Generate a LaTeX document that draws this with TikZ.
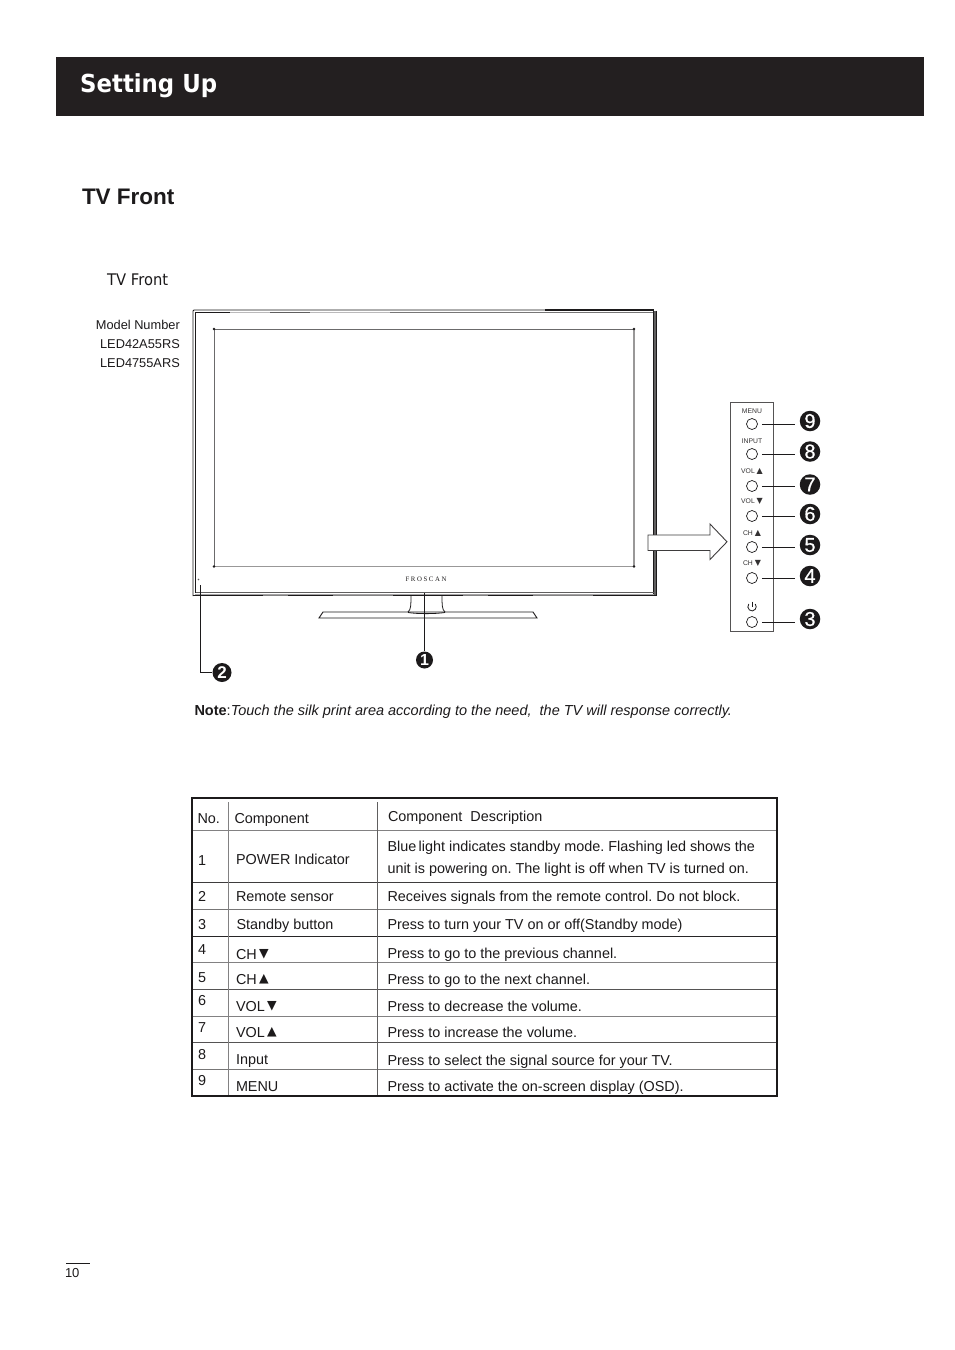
\documentclass[tikz,border=0pt]{standalone}
\usepackage{fontspec}
\setmainfont{Liberation Sans}
\newfontfamily\headfont[FakeStretch=0.92]{DejaVu Sans}
\newfontfamily\subfont[FakeStretch=0.92]{DejaVu Sans}
\newfontfamily\symfont{DejaVu Sans}
\newfontfamily\logofont{Liberation Serif}
\newfontfamily\digitfont[FakeBold=0.6]{Liberation Sans}
\usetikzlibrary{calc}
\frenchspacing
\newcommand{\fs}[1]{\fontsize{#1}{#1}\selectfont}
\newcommand{\dn}{\,\raisebox{1.6pt}{\symfont\fontsize{12.5}{12.5}\selectfont ▼}}
\newcommand{\up}{\,\raisebox{1.2pt}{\symfont\fontsize{12.5}{12.5}\selectfont ▲}}
\newcommand{\dnS}{{\symfont\fontsize{8}{8}\selectfont ▼}}
\newcommand{\upS}{{\symfont\fontsize{8}{8}\selectfont ▲}}
\definecolor{hdr}{HTML}{231F20}
\definecolor{ink}{HTML}{1C1A1B}
\tikzset{
 x=1pt,y=-1pt,
 lbl/.style={anchor=base west,inner sep=0pt,outer sep=0pt,text=ink},
 cell/.style={lbl,font=\fs{14.4}},
 small/.style={lbl,font=\fs{13}},
 model/.style={anchor=base east,inner sep=0pt,text=ink,font=\fs{12.8}},
 panel/.style={anchor=base,inner sep=0pt,outer sep=0pt,font=\fs{6.8},text=ink!90},
 btn/.style={circle,draw=ink,line width=0.7pt,minimum size=11pt,inner sep=0pt},
 badge/.style={circle,fill=ink,inner sep=0pt,minimum size=20.5pt,text=white,font=\digitfont\fs{20}},
 badgeS/.style={badge,minimum size=19pt,font=\bfseries\fs{17}},
 lead/.style={draw=ink,line width=0.8pt},
 rule/.style={draw=ink!#1,line width=0.9pt},
 vrule/.style={draw=ink!#1,line width=1pt},
}
\begin{document}
\begin{tikzpicture}
\useasboundingbox (0,0) rectangle (954,1350);
\fill[white] (0,0) rectangle (954,1350);
% header
\node[draw=none,fill=hdr,anchor=north west,minimum width=868pt,minimum height=59pt,inner sep=0pt] (band) at (56,57) {};
\node[anchor=base west,inner sep=0pt,text=white,font=\headfont\bfseries\fs{24.8}] (title) at (80,92.5) {Setting Up};
\node[lbl,font=\bfseries\fs{22.5}] (sec) at (82,204) {TV Front};
\node[anchor=base west,inner sep=0pt,text=ink,font=\subfont\fs{16}] (sub) at (107,285) {TV Front};
\node[model] (m1) at (180,329) {Model Number};
\node[model] (m2) at (180,348) {LED42A55RS};
\node[model] (m3) at (180,367) {LED4755ARS};
% TV: outer frame
\draw[ink,line width=0.8pt,rounded corners=1pt] (193,596) -- (193,310) -- (545,310);
\draw[ink,line width=1.8pt] (545,310) -- (654,310);
\draw[ink,line width=0.8pt] (195.5,593) -- (195.5,312.5) -- (230,312.5);
\draw[ink!30,line width=0.8pt] (230,312.5) -- (270,312.5);
\draw[ink!70,line width=0.8pt] (270,312.5) -- (310,312.5);
\draw[ink!30,line width=0.8pt] (310,312.5) -- (390,312.5);
\draw[ink!60,line width=0.8pt] (390,312.5) -- (654,312.5);
\fill[ink!70] (654,311) rectangle (656,595);
\draw[ink,line width=0.8pt] (653.8,311) -- (653.8,594);
\draw[ink,line width=0.9pt] (656,310.5) -- (656,595.5);
\draw[ink!70,line width=0.9pt] (195.5,592.2) -- (654,592.2);
\draw[ink!40,line width=0.7pt] (195,593.9) -- (654,593.9);
\draw[ink!55,line width=0.8pt] (193,595.5) -- (656,595.5);
\draw[ink,line width=0.8pt,dash pattern=on 70pt off 25pt on 45pt off 60pt] (193,595.5) -- (656,595.5);
% screen
\draw[ink!65,line width=1pt] (634,329) -- (214,329) -- (214,566.5);
\draw[ink!45,line width=1.5pt] (214,566.5) -- (634,566.5) -- (634,329);
\fill[ink] (214,329) circle (1.3) (634,329) circle (1.3) (214,566.5) circle (1.3) (634,566.5) circle (1.3);
\node[inner sep=0pt,text=ink,font=\logofont\fs{6.8}] (logo) at (426,579.5) {F\kern1.6pt R\kern1.6pt O\kern1.6pt S\kern1.6pt C\kern1.6pt A\kern1.6pt N};
\fill[ink!70] (198.5,579.5) circle (0.9);
% stand
\draw[ink,line width=0.8pt] (411,596) .. controls (411,604) and (411,610) .. (408,612);
\draw[ink,line width=0.8pt] (442,596) .. controls (442,604) and (442,610) .. (445,612);
\draw[ink,line width=0.8pt] (408,612.5) .. controls (418,614) and (434,614) .. (445,612.5);
\draw[ink,line width=0.9pt] (323,612) -- (533,612) -- (537,618) -- (319,618) -- cycle;
% callouts 1, 2
\coordinate (tv1) at (424.5,593);
\coordinate (tv2) at (200,585);
\node[badgeS,minimum size=17pt,font=\bfseries\fs{16}] (b1) at (424.5,660) {1};
\node[badgeS] (b2) at (222,672.5) {2};
\draw[lead] (tv1) -- (b1);
\draw[lead] (tv2) |- (b2);
% arrow
\draw[ink!85,line width=0.9pt,fill=white] (648,535) -- (710,535) -- (710,524) -- (727,541.8) -- (710,559.5) -- (710,550.5) -- (648,550.5) -- cycle;
% panel
\draw[ink!75,line width=0.9pt] (730,402.5) rectangle (773,631.5);
\node[panel] (lm) at (752,413.5) {MENU};
\node[panel] (li) at (752,443) {INPUT};
\node[panel] (lv) at (752,473) {VOL \upS};
\node[panel] (lw) at (752,503) {VOL \dnS};
\node[panel] (lc) at (752,535) {CH \upS};
\node[panel] (ld) at (752,565) {CH \dnS};
\foreach \n/\y/\by in {9/424/421,8/454/451.5,7/486/484.5,6/516/514,5/547/545,4/578/576,3/622/619}{
  \node[btn] (p\n) at (752,\y) {};
  \node[badge] (c\n) at (810,\by) {\n};
  \draw[lead,shorten <=4pt,shorten >=5pt] (p\n.east) -- ($(c\n.west)+(0,\y-\by)$);
}
% power symbol
\draw[ink,line width=0.8pt] (748.8,604) arc[start angle=-140,end angle=-400,radius=4.2];
\draw[ink,line width=0.8pt] (752,601.5) -- (752,607);
% note
\node[lbl,font=\fs{14.5}] (note) at (194.5,715) {\textbf{Note}:\textit{Touch the silk print area according to the need,\ \ the TV will response correctly.}};
% table
\foreach \y/\c in {830/55,882.7/85,909.3/60,936/95,989.3/75,1016/55,1042.7/75,1069.3/60}{\draw[rule=\c] (192,\y) -- (777,\y);}
\draw[ink!55,line width=1.4pt] (192,962.7) -- (777,962.7);
\draw[vrule=55,line width=1.2pt] (228.5,802) -- (228.5,1096);
\draw[vrule=70] (377.7,802) -- (377.7,1096);
\draw[ink,line width=1.6pt] (192,798) rectangle (777,1096);
\node[cell] (t0a) at (197.5,823) {No.};
\node[cell] (t0b) at (234.5,823) {Component};
\node[cell] (t0c) at (388,821) {Component\ \ Description};
\node[cell] (t1a) at (198,865) {1};
\node[cell] (t1b) at (236,864) {POWER Indicator};
\node[cell] (t1c) at (387.5,851) {Blue\,light indicates standby mode. Flashing led shows the};
\node[cell] (t1d) at (387.5,873) {unit is powering on. The light is off when TV is turned on.};
\node[cell] (t2a) at (198,901) {2};
\node[cell] (t2b) at (236,901) {Remote sensor};
\node[cell] (t2c) at (387.5,901) {Receives signals from the remote control. Do not block.};
\node[cell] (t3a) at (198,929) {3};
\node[cell] (t3b) at (236.5,929) {Standby button};
\node[cell] (t3c) at (387.5,929) {Press to turn your TV on or off(Standby mode)};
\node[cell] (t4a) at (198,954.5) {4};
\node[cell] (t4b) at (236,959) {CH\dn};
\node[cell] (t4c) at (387.5,958) {Press to go to the previous channel.};
\node[cell] (t5a) at (198,982) {5};
\node[cell] (t5b) at (236,984) {CH\up};
\node[cell] (t5c) at (387.5,984) {Press to go to the next channel.};
\node[cell] (t6a) at (198,1005) {6};
\node[cell] (t6b) at (236,1011) {VOL\dn};
\node[cell] (t6c) at (387.5,1011) {Press to decrease the volume.};
\node[cell] (t7a) at (198,1032) {7};
\node[cell] (t7b) at (236,1037) {VOL\up};
\node[cell] (t7c) at (387.5,1037) {Press to increase the volume.};
\node[cell] (t8a) at (198,1059) {8};
\node[cell] (t8b) at (236,1064) {Input};
\node[cell] (t8c) at (387.5,1065) {Press to select the signal source for your TV.};
\node[cell] (t9a) at (198,1085) {9};
\node[cell] (t9b) at (236,1091) {MENU};
\node[cell] (t9c) at (387.5,1091) {Press to activate the on-screen display (OSD).};
% page number
\coordinate (fa) at (66,1263);
\coordinate (fb) at (90,1263);
\draw[ink,line width=0.6pt] (fa) -- (fb);
\node[small] (pg) at (65,1277.5) {10};
\end{tikzpicture}
\end{document}
